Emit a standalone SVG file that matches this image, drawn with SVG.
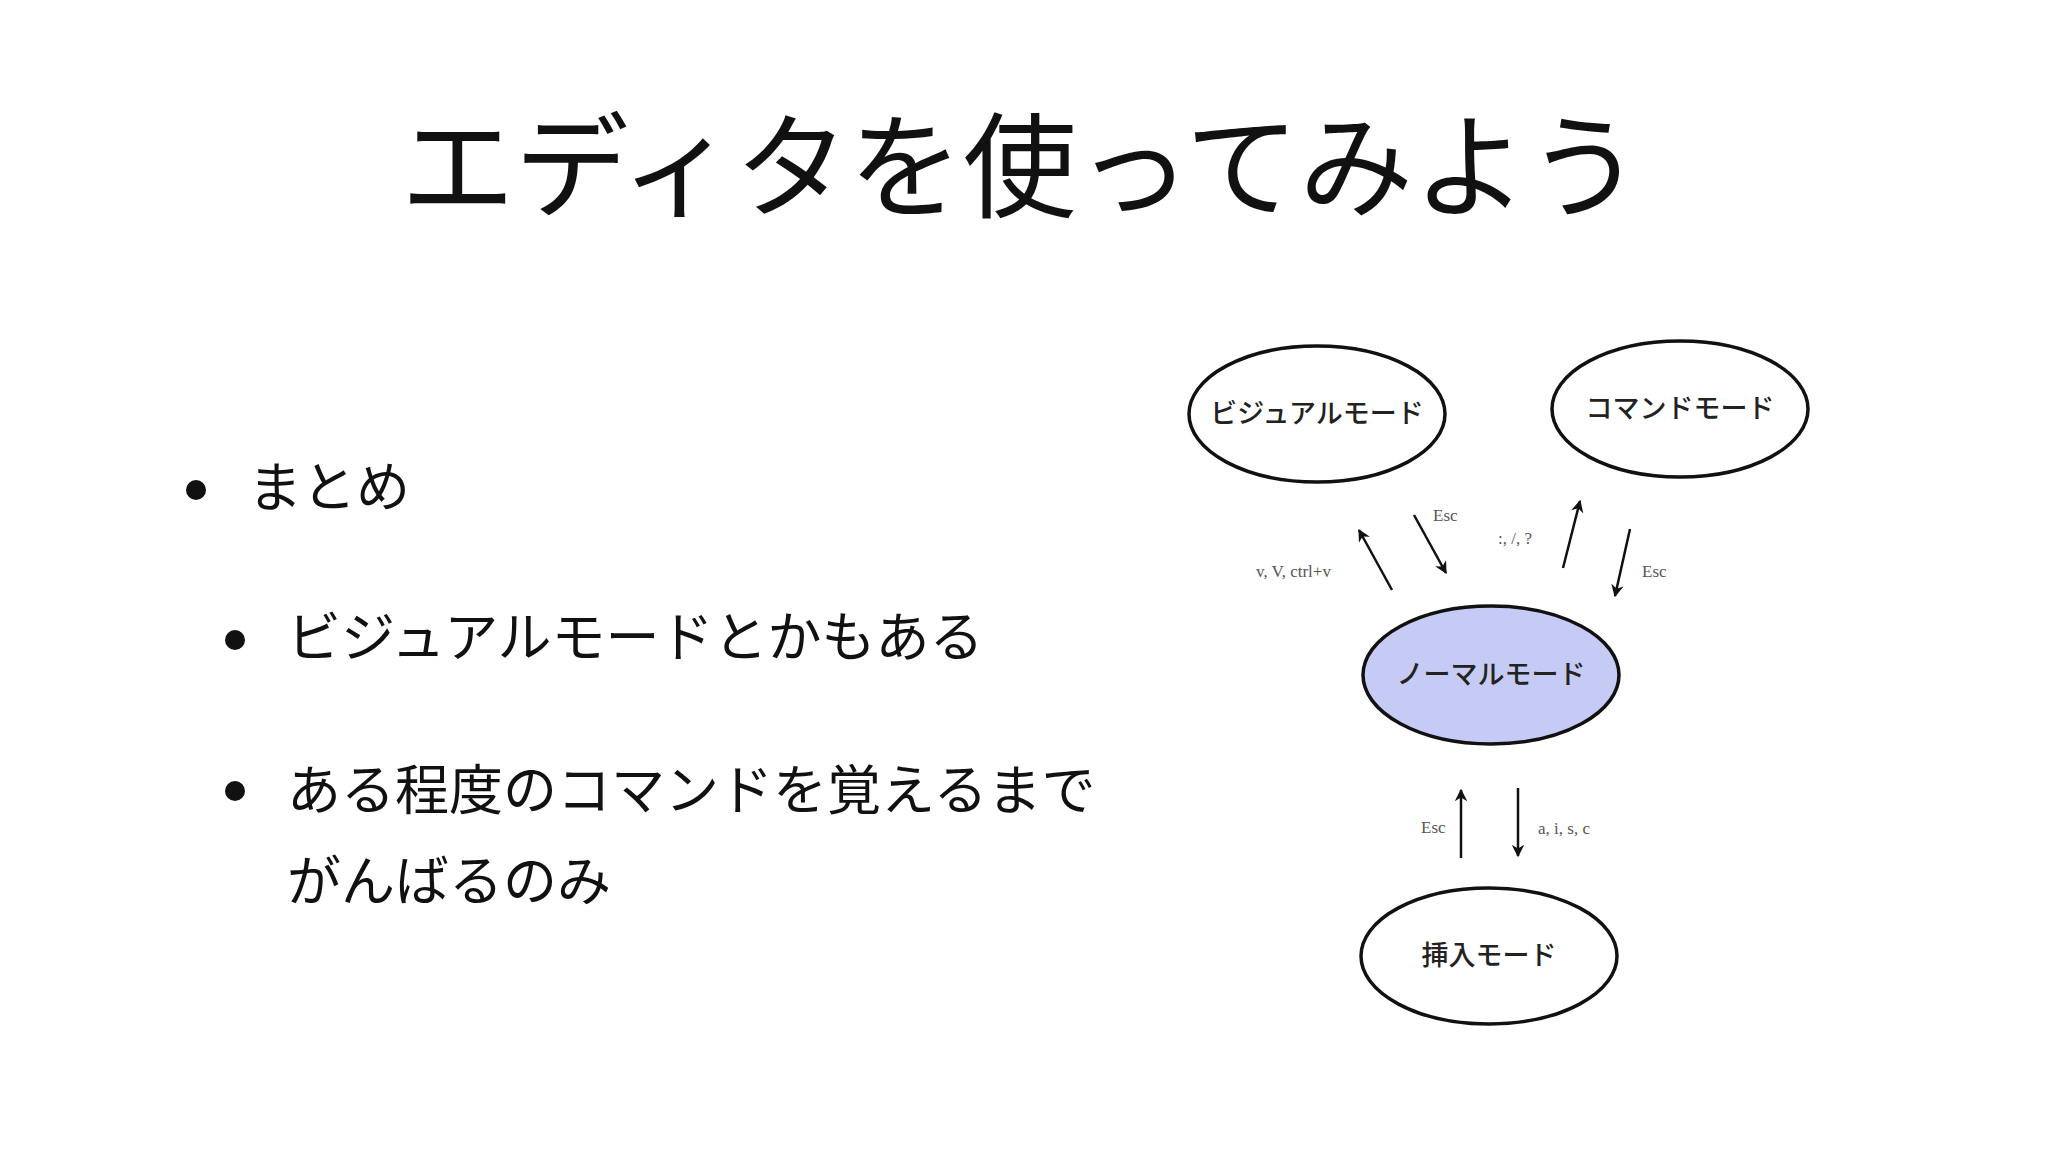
<svg xmlns="http://www.w3.org/2000/svg" width="2048" height="1152" viewBox="0 0 2048 1152">
<style>
.jp{font-family:"Noto Sans CJK JP","Noto Sans",sans-serif;fill:#111}
.n{fill:#fff;stroke:#111;stroke-width:3.5}
.nl{font-family:"Noto Sans CJK JP",sans-serif;font-size:27px;font-weight:500;fill:#222;text-anchor:middle}
.lb{font-family:"Liberation Serif",serif;font-size:17px;fill:#555}
.c line{stroke:#111;stroke-width:2.5;marker-end:url(#a)}
</style>
<defs><marker id="a" viewBox="0 0 10 10" refX="9" refY="5" markerWidth="5" markerHeight="5" orient="auto"><path d="M0,0L10,5L0,10L3,5z" fill="#111"/></marker></defs>
<rect width="2048" height="1152" fill="#fff"/>
<text class="jp" x="1021" y="208" font-size="114" text-anchor="middle">エディタを使ってみよう</text>
<g class="jp" font-size="54">
<circle cx="196" cy="490" r="10" fill="#111"/><text x="248" y="507">まとめ</text>
<circle cx="235" cy="640" r="10" fill="#111"/><text x="287" y="657">ビジュアルモードとかもある</text>
<circle cx="235" cy="791" r="10" fill="#111"/><text x="287" y="810">ある程度のコマンドを覚えるまで</text>
<text x="287" y="901">がんばるのみ</text>
</g>
<g id="visual"><ellipse class="n" cx="1317" cy="414" rx="128" ry="68"/><text class="nl" x="1317" y="423">ビジュアルモード</text></g>
<g id="command"><ellipse class="n" cx="1680" cy="409" rx="128" ry="68"/><text class="nl" x="1680" y="418">コマンドモード</text></g>
<g id="normal"><ellipse class="n" style="fill:#c5cbf5" cx="1491" cy="675" rx="128" ry="69"/><text class="nl" x="1491" y="684">ノーマルモード</text></g>
<g id="insert"><ellipse class="n" cx="1489" cy="956" rx="128" ry="68"/><text class="nl" x="1489" y="965">挿入モード</text></g>
<g class="c">
<line x1="1392" y1="590" x2="1359" y2="530"/>
<line x1="1414" y1="515" x2="1446" y2="573"/>
<line x1="1563" y1="568" x2="1580" y2="501"/>
<line x1="1630" y1="529" x2="1615" y2="596"/>
<line x1="1461" y1="858" x2="1461" y2="790"/>
<line x1="1518" y1="788" x2="1518" y2="856"/>
</g>
<g class="lb">
<text x="1256" y="577">v, V, ctrl+v</text>
<text x="1433" y="521">Esc</text>
<text x="1498" y="544">:, /, ?</text>
<text x="1642" y="577">Esc</text>
<text x="1421" y="833">Esc</text>
<text x="1538" y="834">a, i, s, c</text>
</g>
</svg>
